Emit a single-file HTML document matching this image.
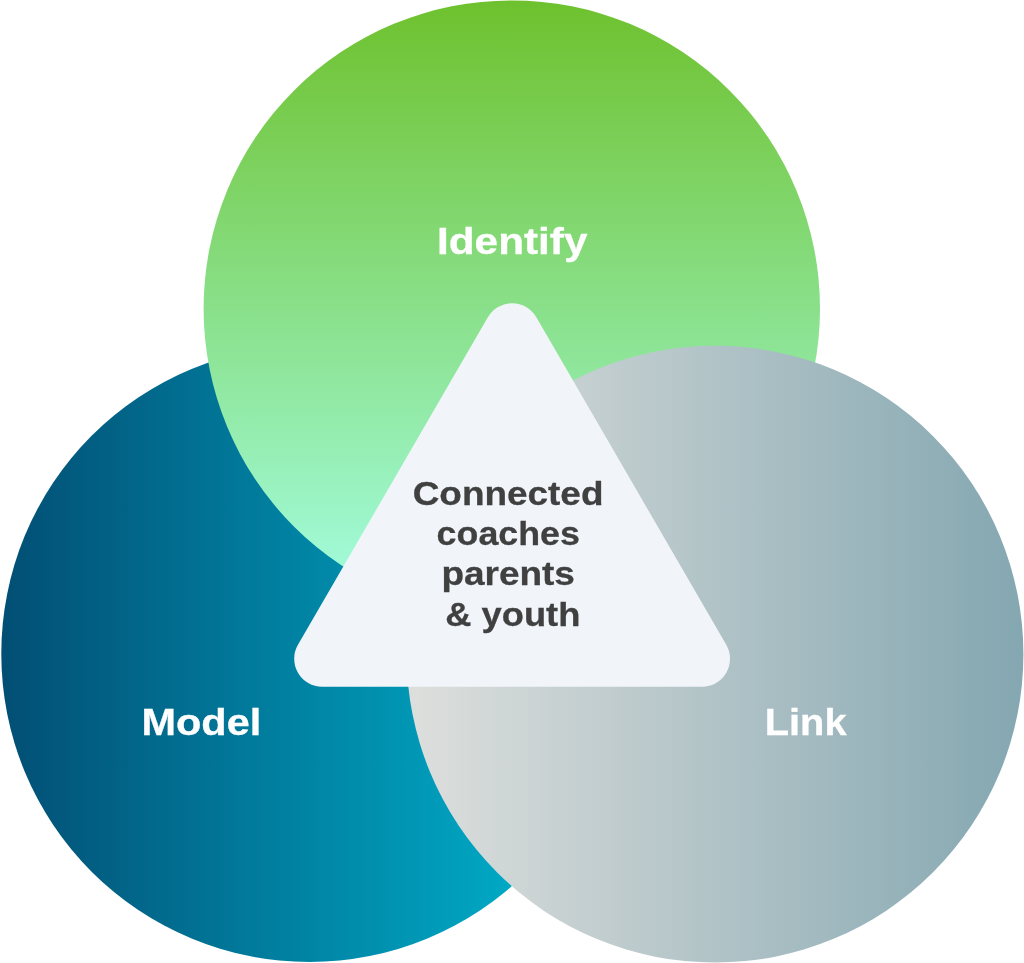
<!DOCTYPE html>
<html lang="en">
<head>
<meta charset="utf-8">
<title>Identify, Model, Link</title>
<style>
  html, body { margin: 0; padding: 0; background: #ffffff; }
  body { width: 1024px; height: 963px; overflow: hidden; position: relative; }
  svg { display: block; position: absolute; left: 0; top: 0; will-change: transform; }
  text { font-family: "Liberation Sans", sans-serif; font-weight: 700; }
  .lbl { fill: #ffffff; font-size: 36px; stroke: #ffffff; stroke-width: 0.3px; }
  .ctr { fill: #404040; font-size: 34px; stroke: #404040; stroke-width: 0.3px; }
</style>
</head>
<body>
<svg width="1024" height="963" viewBox="0 0 1024 963">
  <defs>
    <linearGradient id="gBlue" gradientUnits="userSpaceOnUse" x1="1" y1="0" x2="617" y2="0">
      <stop offset="0" stop-color="#024e74"/>
      <stop offset="1" stop-color="#00bbd5"/>
    </linearGradient>
    <linearGradient id="gGreen" gradientUnits="userSpaceOnUse" x1="0" y1="0" x2="0" y2="616">
      <stop offset="0" stop-color="#6ec12d"/>
      <stop offset="1" stop-color="#a5ffe6"/>
    </linearGradient>
    <linearGradient id="gGrey" gradientUnits="userSpaceOnUse" x1="406" y1="0" x2="1023" y2="0">
      <stop offset="0" stop-color="#dedfdd"/>
      <stop offset="1" stop-color="#84a7b1"/>
    </linearGradient>
  </defs>
  <circle cx="309.5" cy="653.8" r="308.2" fill="url(#gBlue)"/>
  <circle cx="511.8" cy="308.6" r="308.2" fill="url(#gGreen)"/>
  <circle cx="715.0" cy="654.2" r="308.4" fill="url(#gGrey)"/>
  <path d="M322.2 686.8 L702 686.8 A28 28 0 0 0 726.25 644.8 L536.35 317.2 A28 28 0 0 0 487.85 317.2 L297.95 644.8 A28 28 0 0 0 322.2 686.8 Z" fill="#f1f5fa"/>
  <text class="lbl" x="437.02" y="253.6" textLength="150.41" lengthAdjust="spacingAndGlyphs">Identify</text>
  <text class="lbl" x="141.56" y="735.0" textLength="119.66" lengthAdjust="spacingAndGlyphs">Model</text>
  <text class="lbl" x="764.75" y="735.0" textLength="81.84" lengthAdjust="spacingAndGlyphs">Link</text>
  <text class="ctr" x="412.69" y="504.7" textLength="190.78" lengthAdjust="spacingAndGlyphs">Connected</text>
  <text class="ctr" x="436.60" y="545.1" textLength="143.31" lengthAdjust="spacingAndGlyphs">coaches</text>
  <text class="ctr" x="441.44" y="584.9" textLength="133.49" lengthAdjust="spacingAndGlyphs">parents</text>
  <text class="ctr" x="445.24" y="625.7" textLength="135.09" lengthAdjust="spacingAndGlyphs">&amp; youth</text>
</svg>
</body>
</html>
